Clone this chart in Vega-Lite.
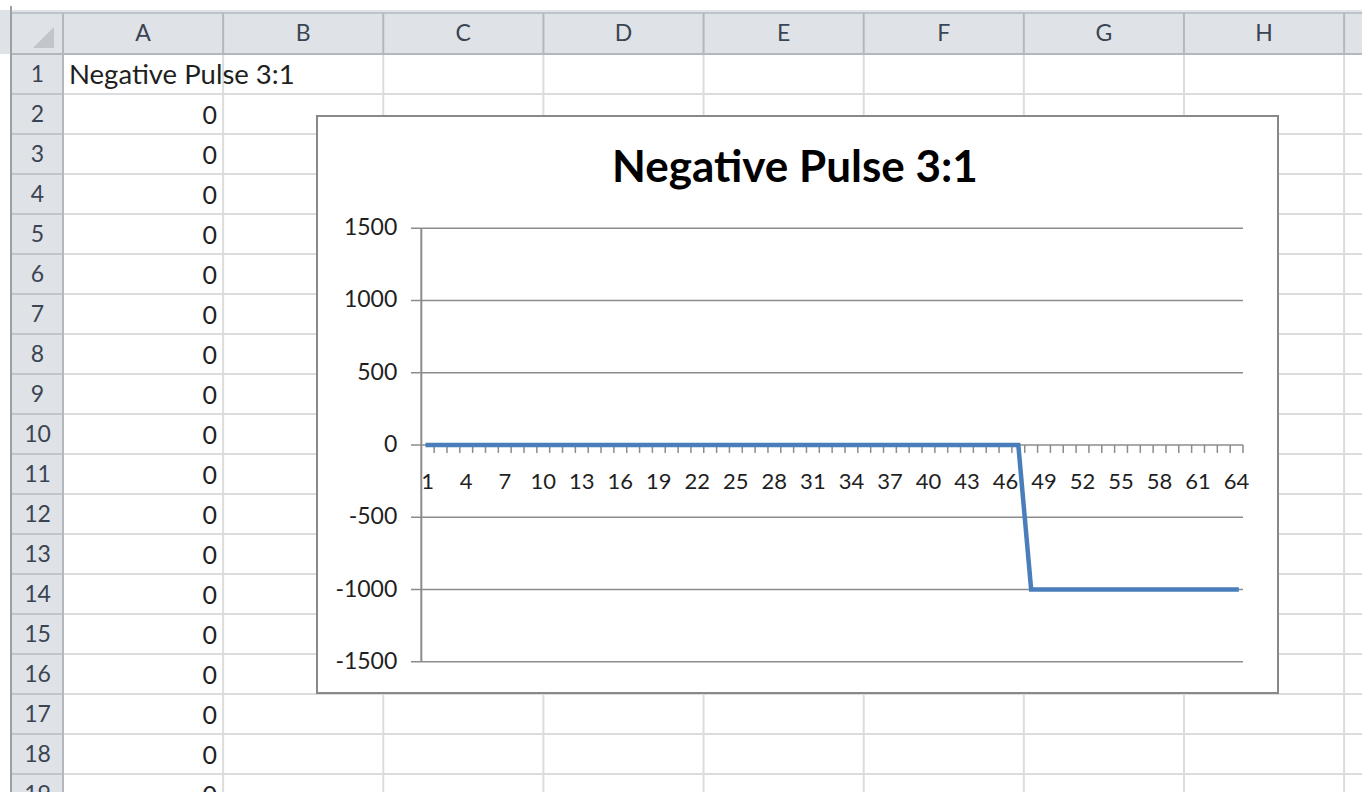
{
  "$schema": "https://vega.github.io/schema/vega-lite/v6.json",
  "width": 1362,
  "height": 792,
  "autosize": "none",
  "padding": 0,
  "background": "white",
  "config": {"view": {"stroke": null}, "axis": {"disable": true}, "font": "Lato"},
  "datasets": {
    "pulse": [
      {"k": 1, "v": 0}, {"k": 2, "v": 0}, {"k": 3, "v": 0}, {"k": 4, "v": 0}, {"k": 5, "v": 0}, {"k": 6, "v": 0}, {"k": 7, "v": 0}, {"k": 8, "v": 0},
      {"k": 9, "v": 0}, {"k": 10, "v": 0}, {"k": 11, "v": 0}, {"k": 12, "v": 0}, {"k": 13, "v": 0}, {"k": 14, "v": 0}, {"k": 15, "v": 0}, {"k": 16, "v": 0},
      {"k": 17, "v": 0}, {"k": 18, "v": 0}, {"k": 19, "v": 0}, {"k": 20, "v": 0}, {"k": 21, "v": 0}, {"k": 22, "v": 0}, {"k": 23, "v": 0}, {"k": 24, "v": 0},
      {"k": 25, "v": 0}, {"k": 26, "v": 0}, {"k": 27, "v": 0}, {"k": 28, "v": 0}, {"k": 29, "v": 0}, {"k": 30, "v": 0}, {"k": 31, "v": 0}, {"k": 32, "v": 0},
      {"k": 33, "v": 0}, {"k": 34, "v": 0}, {"k": 35, "v": 0}, {"k": 36, "v": 0}, {"k": 37, "v": 0}, {"k": 38, "v": 0}, {"k": 39, "v": 0}, {"k": 40, "v": 0},
      {"k": 41, "v": 0}, {"k": 42, "v": 0}, {"k": 43, "v": 0}, {"k": 44, "v": 0}, {"k": 45, "v": 0}, {"k": 46, "v": 0}, {"k": 47, "v": 0}, {"k": 48, "v": -1000},
      {"k": 49, "v": -1000}, {"k": 50, "v": -1000}, {"k": 51, "v": -1000}, {"k": 52, "v": -1000}, {"k": 53, "v": -1000}, {"k": 54, "v": -1000}, {"k": 55, "v": -1000}, {"k": 56, "v": -1000},
      {"k": 57, "v": -1000}, {"k": 58, "v": -1000}, {"k": 59, "v": -1000}, {"k": 60, "v": -1000}, {"k": 61, "v": -1000}, {"k": 62, "v": -1000}, {"k": 63, "v": -1000}, {"k": 64, "v": -1000}
    ],
    "gridvals": [{"g": -1500}, {"g": -1000}, {"g": -500}, {"g": 0}, {"g": 500}, {"g": 1000}, {"g": 1500}],
    "cols": [{"c": "A", "i": 0}, {"c": "B", "i": 1}, {"c": "C", "i": 2}, {"c": "D", "i": 3}, {"c": "E", "i": 4}, {"c": "F", "i": 5}, {"c": "G", "i": 6}, {"c": "H", "i": 7}, {"c": "I", "i": 8}],
    "sheetrows": [
      {"n": 1, "a": "Negative Pulse 3:1"}, {"n": 2, "a": "0"}, {"n": 3, "a": "0"}, {"n": 4, "a": "0"}, {"n": 5, "a": "0"}, {"n": 6, "a": "0"},
      {"n": 7, "a": "0"}, {"n": 8, "a": "0"}, {"n": 9, "a": "0"}, {"n": 10, "a": "0"}, {"n": 11, "a": "0"}, {"n": 12, "a": "0"},
      {"n": 13, "a": "0"}, {"n": 14, "a": "0"}, {"n": 15, "a": "0"}, {"n": 16, "a": "0"}, {"n": 17, "a": "0"}, {"n": 18, "a": "0"}, {"n": 19, "a": "0"}
    ],
    "one": [{}]
  },
  "layer": [
    {
      "layer": [
        {
          "data": {"name": "one"},
          "mark": {"type": "rect", "fill": "#dfe3e8"},
          "encoding": {
            "x": {"datum": -0.3934, "type": "quantitative", "scale": {"domain": [-0.3934, 8.1118], "nice": false, "zero": false}},
            "x2": {"datum": 8.1118},
            "y": {"datum": -1.1, "type": "quantitative", "scale": {"domain": [-1.35, 18.45], "nice": false, "zero": false, "reverse": true}},
            "y2": {"datum": 0}
          }
        },
        {
          "data": {"name": "one"},
          "mark": {"type": "rect", "fill": "#dfe3e8"},
          "encoding": {
            "x": {"datum": -0.3185, "type": "quantitative", "scale": {"domain": [-0.3934, 8.1118], "nice": false, "zero": false}},
            "x2": {"datum": 0},
            "y": {"datum": -1.025, "type": "quantitative", "scale": {"domain": [-1.35, 18.45], "nice": false, "zero": false, "reverse": true}},
            "y2": {"datum": 18.45}
          }
        },
        {
          "data": {"name": "sheetrows"},
          "transform": [{"filter": "datum.n <= 18"}],
          "mark": {"type": "rule", "stroke": "#dadcde", "strokeWidth": 2},
          "encoding": {
            "y": {"field": "n", "type": "quantitative", "scale": {"domain": [-1.35, 18.45], "nice": false, "zero": false, "reverse": true}},
            "x": {"datum": 0, "type": "quantitative", "scale": {"domain": [-0.3934, 8.1118], "nice": false, "zero": false}},
            "x2": {"datum": 8.1118}
          }
        },
        {
          "data": {"name": "cols"},
          "transform": [{"filter": "datum.i >= 1"}],
          "mark": {"type": "rule", "stroke": "#dadcde", "strokeWidth": 2},
          "encoding": {
            "x": {"field": "i", "type": "quantitative", "scale": {"domain": [-0.3934, 8.1118], "nice": false, "zero": false}},
            "y": {"datum": 0, "type": "quantitative", "scale": {"domain": [-1.35, 18.45], "nice": false, "zero": false, "reverse": true}},
            "y2": {"datum": 18.45}
          }
        },
        {
          "data": {"name": "cols"},
          "mark": {"type": "rule", "stroke": "#b3b8bf", "strokeWidth": 2},
          "encoding": {
            "x": {"field": "i", "type": "quantitative", "scale": {"domain": [-0.3934, 8.1118], "nice": false, "zero": false}},
            "y": {"datum": -1.025, "type": "quantitative", "scale": {"domain": [-1.35, 18.45], "nice": false, "zero": false, "reverse": true}},
            "y2": {"datum": 0}
          }
        },
        {
          "data": {"name": "sheetrows"},
          "transform": [{"filter": "datum.n <= 18"}],
          "mark": {"type": "rule", "stroke": "#c0c5cb", "strokeWidth": 2},
          "encoding": {
            "y": {"field": "n", "type": "quantitative", "scale": {"domain": [-1.35, 18.45], "nice": false, "zero": false, "reverse": true}},
            "x": {"datum": -0.3185, "type": "quantitative", "scale": {"domain": [-0.3934, 8.1118], "nice": false, "zero": false}},
            "x2": {"datum": 0}
          }
        },
        {
          "data": {"name": "one"},
          "mark": {"type": "rule", "stroke": "#b3b8bf", "strokeWidth": 2},
          "encoding": {
            "y": {"datum": 0, "type": "quantitative", "scale": {"domain": [-1.35, 18.45], "nice": false, "zero": false, "reverse": true}},
            "x": {"datum": -0.3185, "type": "quantitative", "scale": {"domain": [-0.3934, 8.1118], "nice": false, "zero": false}},
            "x2": {"datum": 8.1118}
          }
        },
        {
          "data": {"name": "one"},
          "mark": {"type": "rule", "stroke": "#b3b8bf", "strokeWidth": 1.5},
          "encoding": {
            "y": {"datum": -1.025, "type": "quantitative", "scale": {"domain": [-1.35, 18.45], "nice": false, "zero": false, "reverse": true}},
            "x": {"datum": -0.3185, "type": "quantitative", "scale": {"domain": [-0.3934, 8.1118], "nice": false, "zero": false}},
            "x2": {"datum": 8.1118}
          }
        },
        {
          "data": {"name": "one"},
          "mark": {"type": "rule", "stroke": "#b3b8bf", "strokeWidth": 2},
          "encoding": {
            "x": {"datum": 0, "type": "quantitative", "scale": {"domain": [-0.3934, 8.1118], "nice": false, "zero": false}},
            "y": {"datum": -1.025, "type": "quantitative", "scale": {"domain": [-1.35, 18.45], "nice": false, "zero": false, "reverse": true}},
            "y2": {"datum": 18.45}
          }
        },
        {
          "data": {"name": "one"},
          "mark": {"type": "rule", "stroke": "#9aa0a6", "strokeWidth": 2},
          "encoding": {
            "x": {"datum": -0.3247, "type": "quantitative", "scale": {"domain": [-0.3934, 8.1118], "nice": false, "zero": false}},
            "y": {"datum": -1.2, "type": "quantitative", "scale": {"domain": [-1.35, 18.45], "nice": false, "zero": false, "reverse": true}},
            "y2": {"datum": 18.45}
          }
        },
        {
          "data": {"name": "one"},
          "mark": {"type": "point", "shape": "M 1 -1 L 1 1 L -1 1 Z", "size": 440, "filled": true, "fill": "#c2c6cb", "strokeWidth": 0, "opacity": 1},
          "encoding": {
            "x": {"datum": -0.1218, "type": "quantitative", "scale": {"domain": [-0.3934, 8.1118], "nice": false, "zero": false}},
            "y": {"datum": -0.4125, "type": "quantitative", "scale": {"domain": [-1.35, 18.45], "nice": false, "zero": false, "reverse": true}}
          }
        },
        {
          "data": {"name": "cols"},
          "transform": [{"filter": "datum.i < 8"}],
          "mark": {"type": "text", "font": "Lato", "fontSize": 23, "fill": "#3b4452", "align": "center", "baseline": "middle", "dx": 80},
          "encoding": {
            "x": {"field": "i", "type": "quantitative", "scale": {"domain": [-0.3934, 8.1118], "nice": false, "zero": false}},
            "y": {"datum": -0.5, "type": "quantitative", "scale": {"domain": [-1.35, 18.45], "nice": false, "zero": false, "reverse": true}},
            "text": {"field": "c", "type": "nominal"}
          }
        },
        {
          "data": {"name": "sheetrows"},
          "mark": {"type": "text", "font": "Lato", "fontSize": 23, "fill": "#3b4452", "align": "center", "baseline": "middle", "dy": -19},
          "encoding": {
            "x": {"datum": -0.159, "type": "quantitative", "scale": {"domain": [-0.3934, 8.1118], "nice": false, "zero": false}},
            "y": {"field": "n", "type": "quantitative", "scale": {"domain": [-1.35, 18.45], "nice": false, "zero": false, "reverse": true}},
            "text": {"field": "n", "type": "nominal"}
          }
        },
        {
          "data": {"name": "sheetrows"},
          "transform": [{"filter": "datum.n == 1"}],
          "mark": {"type": "text", "font": "Lato", "fontSize": 27.5, "fill": "#1f1f1f", "align": "left", "baseline": "middle", "dx": 6, "dy": -18},
          "encoding": {
            "x": {"datum": 0, "type": "quantitative", "scale": {"domain": [-0.3934, 8.1118], "nice": false, "zero": false}},
            "y": {"field": "n", "type": "quantitative", "scale": {"domain": [-1.35, 18.45], "nice": false, "zero": false, "reverse": true}},
            "text": {"field": "a", "type": "nominal"}
          }
        },
        {
          "data": {"name": "sheetrows"},
          "transform": [{"filter": "datum.n > 1"}],
          "mark": {"type": "text", "font": "Lato", "fontSize": 25, "fill": "#1f1f1f", "align": "right", "baseline": "middle", "dx": -6, "dy": -18},
          "encoding": {
            "x": {"datum": 1, "type": "quantitative", "scale": {"domain": [-0.3934, 8.1118], "nice": false, "zero": false}},
            "y": {"field": "n", "type": "quantitative", "scale": {"domain": [-1.35, 18.45], "nice": false, "zero": false, "reverse": true}},
            "text": {"field": "a", "type": "nominal"}
          }
        }
      ]
    },
    {
      "layer": [
        {
          "data": {"name": "one"},
          "mark": {"type": "rect", "fill": "white", "stroke": "#898989", "strokeWidth": 2},
          "encoding": {
            "x": {"datum": -7.624, "type": "quantitative", "scale": {"domain": [-32.314, 73.769], "nice": false, "zero": false}},
            "x2": {"datum": 67.226},
            "y": {"datum": 2276.2, "type": "quantitative", "scale": {"domain": [-2400.7, 3078.7], "nice": false, "zero": false}},
            "y2": {"datum": -1715.8}
          }
        },
        {
          "data": {"name": "gridvals"},
          "mark": {"type": "rule", "stroke": "#8c8c8c", "strokeWidth": 1.5},
          "encoding": {
            "y": {"field": "g", "type": "quantitative", "scale": {"domain": [-2400.7, 3078.7], "nice": false, "zero": false}},
            "x": {"datum": -0.302, "type": "quantitative", "scale": {"domain": [-32.314, 73.769], "nice": false, "zero": false}},
            "x2": {"datum": 64.5}
          }
        },
        {
          "data": {"name": "one"},
          "mark": {"type": "rule", "stroke": "#8c8c8c", "strokeWidth": 2},
          "encoding": {
            "x": {"datum": 0.5, "type": "quantitative", "scale": {"domain": [-32.314, 73.769], "nice": false, "zero": false}},
            "y": {"datum": -1500, "type": "quantitative", "scale": {"domain": [-2400.7, 3078.7], "nice": false, "zero": false}},
            "y2": {"datum": 1500}
          }
        },
        {
          "data": {"name": "pulse"},
          "mark": {"type": "rule", "stroke": "#8c8c8c", "strokeWidth": 1.5, "xOffset": 6.42},
          "encoding": {
            "x": {"field": "k", "type": "quantitative", "scale": {"domain": [-32.314, 73.769], "nice": false, "zero": false}},
            "y": {"datum": 0, "type": "quantitative", "scale": {"domain": [-2400.7, 3078.7], "nice": false, "zero": false}},
            "y2": {"datum": -55}
          }
        },
        {
          "data": {"name": "gridvals"},
          "mark": {"type": "text", "font": "Lato", "fontSize": 23, "fill": "#1f1f1f", "align": "right", "baseline": "middle", "dx": -24},
          "encoding": {
            "x": {"datum": 0.5, "type": "quantitative", "scale": {"domain": [-32.314, 73.769], "nice": false, "zero": false}},
            "y": {"field": "g", "type": "quantitative", "scale": {"domain": [-2400.7, 3078.7], "nice": false, "zero": false}},
            "text": {"field": "g", "type": "nominal"}
          }
        },
        {
          "data": {"name": "pulse"},
          "transform": [{"filter": "(datum.k - 1) % 3 == 0"}],
          "mark": {"type": "text", "font": "Lato", "fontSize": 22, "fill": "#1f1f1f", "align": "center", "baseline": "middle", "dy": 37},
          "encoding": {
            "x": {"field": "k", "type": "quantitative", "scale": {"domain": [-32.314, 73.769], "nice": false, "zero": false}},
            "y": {"datum": 0, "type": "quantitative", "scale": {"domain": [-2400.7, 3078.7], "nice": false, "zero": false}},
            "text": {"field": "k", "type": "nominal"}
          }
        },
        {
          "data": {"name": "pulse"},
          "mark": {"type": "line", "stroke": "#4a7ebb", "strokeWidth": 4.5, "strokeCap": "square", "strokeJoin": "miter"},
          "encoding": {
            "x": {"field": "k", "type": "quantitative", "scale": {"domain": [-32.314, 73.769], "nice": false, "zero": false}},
            "y": {"field": "v", "type": "quantitative", "scale": {"domain": [-2400.7, 3078.7], "nice": false, "zero": false}}
          }
        },
        {
          "data": {"name": "one"},
          "mark": {"type": "text", "font": "Lato", "fontSize": 44, "fontWeight": "bold", "fill": "#000000", "align": "center", "baseline": "alphabetic"},
          "encoding": {
            "x": {"datum": 29.6, "type": "quantitative", "scale": {"domain": [-32.314, 73.769], "nice": false, "zero": false}},
            "y": {"datum": 1820, "type": "quantitative", "scale": {"domain": [-2400.7, 3078.7], "nice": false, "zero": false}},
            "text": {"value": "Negative Pulse 3:1"}
          }
        }
      ]
    }
  ],
  "resolve": {"scale": {"x": "independent", "y": "independent"}}
}
